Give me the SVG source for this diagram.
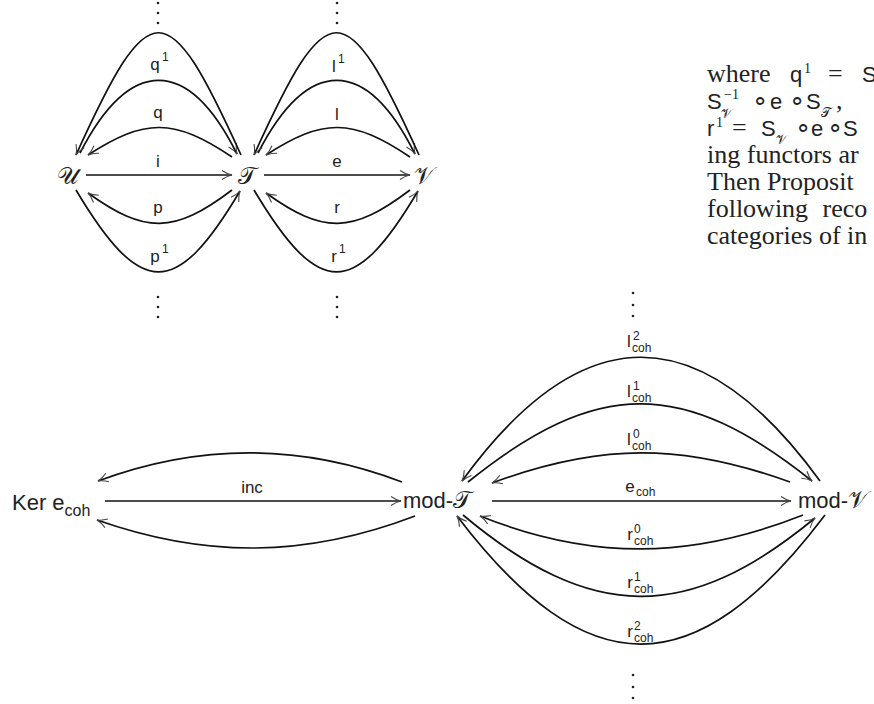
<svg xmlns="http://www.w3.org/2000/svg" width="874" height="704" viewBox="0 0 874 704">
<defs>
<marker id="ah" markerUnits="userSpaceOnUse" markerWidth="14" markerHeight="12" viewBox="0 0 14 12" refX="12" refY="6" orient="auto">
<path d="M2,1.5 Q7,5 12,6 Q7,7 2,10.5" fill="none" stroke="#444" stroke-width="1.1"/>
</marker>
</defs>
<style>
.e{fill:none;stroke:#111;stroke-width:1.7;marker-end:url(#ah)}
.l{font-family:"Liberation Sans",Arial,sans-serif;font-size:17px;fill:#222;text-anchor:middle}
.s{font-family:"Liberation Sans",Arial,sans-serif;font-size:12px;fill:#222}
.n{font-family:"Liberation Sans",Arial,sans-serif;font-size:22px;fill:#222}
.c{font-family:"DejaVu Serif","Liberation Serif",serif;fill:#222}
.t{font-family:"Liberation Serif","Times New Roman",serif;font-size:26px;fill:#222}
.ts{font-family:"Liberation Serif","Times New Roman",serif;font-size:14px;fill:#222}
.m{font-family:"Liberation Sans",Arial,sans-serif;font-size:22px;fill:#222}
.d{fill:#222}
</style>

<g id="node-U"><text class="c" x="68" y="184" font-size="24" text-anchor="middle">𝒰</text></g>
<g id="node-T"><text class="c" x="247" y="184" font-size="24" text-anchor="middle">𝒯</text></g>
<g id="node-V"><text class="c" x="424" y="184" font-size="24" text-anchor="middle">𝒱</text></g>
<g id="node-Ker"><text class="n" x="12" y="510">Ker e<tspan style="font-size:16px" dy="6">coh</tspan></text></g>
<g id="node-modT"><text class="n" x="403" y="508">mod-<tspan class="c" font-size="24">𝒯</tspan></text></g>
<g id="node-modV"><text class="n" x="798" y="508">mod-<tspan class="c" font-size="24">𝒱</tspan></text></g>

<g id="connectors">
<path class="e" d="M86,175 L232,175"/>
<path class="e" d="M264,175 L410,175"/>
<path class="e" d="M232,157 C174,118 145,118 88,155"/>
<path class="e" d="M80,153 C130,56 188,56 237,154"/>
<path class="e" d="M241,155 C167,-8 150,-8 76,155"/>
<path class="e" d="M232,190 C174,234 145,234 88,193"/>
<path class="e" d="M76,190 C141,299 176,299 240,191"/>
<path class="e" d="M410,157 C352,118 323,118 266,155"/>
<path class="e" d="M258,153 C308,56 366,56 415,154"/>
<path class="e" d="M419,155 C345,-8 328,-8 254,155"/>
<path class="e" d="M410,190 C352,234 323,234 266,193"/>
<path class="e" d="M254,190 C319,299 354,299 418,191"/>
<path class="e" d="M105,501 L401,501"/>
<path class="e" d="M402,482 C300,443 200,443 98,481"/>
<path class="e" d="M415,516 C305,558 205,558 97,520"/>
<path class="e" d="M492,501 L791,501"/>
<path class="e" d="M820,481 C700,316 582,316 462,481"/>
<path class="e" d="M468,482 C597,378 683,378 812,481"/>
<path class="e" d="M790,482 C682,443 600,443 492,483"/>
<path class="e" d="M803,515 C690,560 590,560 480,516"/>
<path class="e" d="M463,515 C592,623 688,623 815,518"/>
<path class="e" d="M825,515 C695,687 587,687 457,516"/>
</g>

<g id="labels">
<text class="l" x="155" y="70">q</text><text class="s" x="162" y="61">1</text>
<text class="l" x="158" y="118">q</text>
<text class="l" x="158" y="167">i</text>
<text class="l" x="158" y="213">p</text>
<text class="l" x="155" y="262">p</text><text class="s" x="162" y="253">1</text>
<text class="l" x="334" y="72">l</text><text class="s" x="338" y="63">1</text>
<text class="l" x="337" y="120">l</text>
<text class="l" x="337" y="167">e</text>
<text class="l" x="337" y="213">r</text>
<text class="l" x="334" y="262">r</text><text class="s" x="339" y="253">1</text>
<text class="l" x="252" y="493">inc</text>
<text class="l" x="629" y="347">l</text><text class="s" x="633" y="340">2</text><text class="s" x="632" y="352">coh</text>
<text class="l" x="629" y="397">l</text><text class="s" x="633" y="390">1</text><text class="s" x="632" y="402">coh</text>
<text class="l" x="629" y="445">l</text><text class="s" x="633" y="438">0</text><text class="s" x="632" y="450">coh</text>
<text class="l" x="630" y="492">e</text><text class="s" x="636" y="496">coh</text>
<text class="l" x="630" y="540">r</text><text class="s" x="634" y="533">0</text><text class="s" x="634" y="545">coh</text>
<text class="l" x="630" y="588">r</text><text class="s" x="634" y="581">1</text><text class="s" x="634" y="593">coh</text>
<text class="l" x="630" y="637">r</text><text class="s" x="634" y="630">2</text><text class="s" x="634" y="642">coh</text>
</g>

<g id="dots">
<circle class="d" cx="158" cy="3" r="1.3"/><circle class="d" cx="158" cy="13" r="1.3"/><circle class="d" cx="158" cy="23" r="1.3"/>
<circle class="d" cx="337" cy="3" r="1.3"/><circle class="d" cx="337" cy="13" r="1.3"/><circle class="d" cx="337" cy="23" r="1.3"/>
<circle class="d" cx="158" cy="297" r="1.3"/><circle class="d" cx="158" cy="307" r="1.3"/><circle class="d" cx="158" cy="317" r="1.3"/>
<circle class="d" cx="337" cy="297" r="1.3"/><circle class="d" cx="337" cy="307" r="1.3"/><circle class="d" cx="337" cy="317" r="1.3"/>
<circle class="d" cx="633" cy="293" r="1.3"/><circle class="d" cx="633" cy="305" r="1.3"/><circle class="d" cx="633" cy="316" r="1.3"/>
<circle class="d" cx="633" cy="675" r="1.3"/><circle class="d" cx="633" cy="687" r="1.3"/><circle class="d" cx="633" cy="698" r="1.3"/>
</g>

<g id="text-block">
<text class="t" x="707" y="82">where</text>
<text class="m" x="790" y="82">q</text><text class="ts" x="804" y="73">1</text>
<text class="t" x="828" y="82">=</text>
<text class="m" x="862" y="82">S</text>
<text class="m" x="707" y="109">S</text><text class="c" x="721" y="118" font-size="13">𝒱</text><text class="ts" x="724" y="99">−1</text>
<text class="t" x="752" y="109">∘</text>
<text class="m" x="770" y="109">e</text>
<text class="t" x="789" y="109">∘</text>
<text class="m" x="806" y="109">S</text><text class="c" x="821" y="117" font-size="13">𝒯</text><text class="t" x="836" y="109">,</text>
<text class="m" x="707" y="136">r</text><text class="ts" x="716" y="127">1</text>
<text class="t" x="732" y="136">=</text>
<text class="m" x="761" y="136">S</text><text class="c" x="776" y="144" font-size="13">𝒱</text>
<text class="t" x="795" y="136">∘</text>
<text class="m" x="811" y="136">e</text>
<text class="t" x="827" y="136">∘</text>
<text class="m" x="843" y="136">S</text>
<text class="t" x="707" y="163">ing functors ar</text>
<text class="t" x="707" y="190">Then Proposit</text>
<text class="t" x="707" y="217" word-spacing="8">following reco</text>
<text class="t" x="707" y="244">categories of in</text>
</g>
</svg>
